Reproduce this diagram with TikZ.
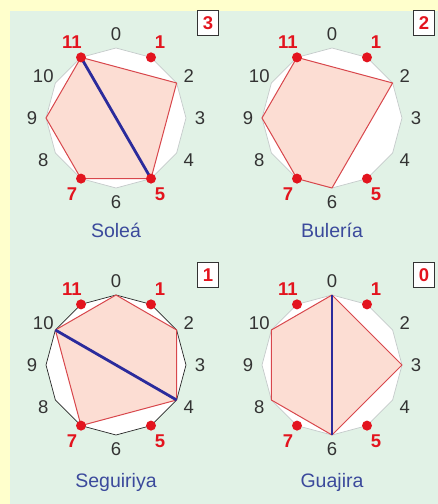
\documentclass[tikz,border=0pt]{standalone}
\usepackage{fontspec}
\setmainfont{Liberation Sans}
\definecolor{bgyellow}{HTML}{FFFFCC}
\definecolor{panel}{HTML}{E1F2E6}
\definecolor{polyfill}{HTML}{FCDDD3}
\definecolor{polyedge}{HTML}{D8474C}
\definecolor{onset}{HTML}{E3141E}
\definecolor{axis}{HTML}{2B2B9C}
\definecolor{titleblue}{HTML}{3B4A9C}
\definecolor{rimgrey}{HTML}{C4CACA}
\tikzset{
  rim/.style={fill=white,line width=.7pt,line join=round},
  rhythm/.style={fill=polyfill,draw=polyedge,line width=1pt,line join=round},
  axisline/.style={draw=axis,line width=2.8pt},
  onsetdot/.style={circle,fill=onset,inner sep=0pt,minimum size=10pt},
  hour/.style={font=\fontsize{18.5}{18.5}\selectfont,text=black!80},
  hourred/.style={font=\fontsize{18.5}{18.5}\selectfont\bfseries,text=onset},
  palotitle/.style={font=\fontsize{19.5}{19.5}\selectfont,text=titleblue},
  countbox/.style={draw=black!80,fill=white,line width=.9pt,minimum width=21pt,minimum height=25pt,inner sep=0pt,font=\fontsize{18.5}{18.5}\selectfont\bfseries,text=onset},
}
\begin{document}
\begin{tikzpicture}[x=1pt,y=1pt]
  \useasboundingbox (0,0) rectangle (438,504);
  \fill[bgyellow] (0,0) rectangle (438,504);
  \fill[panel] (10,0) rectangle (438,493);
  % the four clocks: rim, hour labels
  \foreach \p/\cx/\cy/\rimc in {so/116/386/rimgrey,bu/332/386/rimgrey,se/116/139/black!85,gu/332/139/rimgrey}{
    \begin{scope}[shift={(\cx,\cy)}]
      \foreach \k in {0,...,11}
        \coordinate (\p\k) at ({90-30*\k}:70);
      \draw[rim,draw=\rimc] (\p0) \foreach \k in {1,...,11}{--(\p\k)} -- cycle;
      \foreach \k in {0,2,3,4,6,8,9,10}
        \node[hour] (\p-l\k) at ({90-30*\k}:84) {\k};
      \foreach \k in {1,5,7,11}
        \node[hourred] (\p-l\k) at ({90-30*\k}:88) {\k};
    \end{scope}
  }
  % Solea
  \draw[rhythm] (so11)--(so2)--(so5)--(so7)--(so9)--cycle;
  \draw[axisline] (so11)--(so5);
  % Buleria
  \draw[rhythm] (bu11)--(bu2)--(bu6)--(bu7)--(bu9)--cycle;
  % Seguiriya
  \draw[rhythm] (se0)--(se2)--(se4)--(se7)--(se10)--cycle;
  \draw[axisline] (se10)--(se4);
  % Guajira
  \draw[rhythm] (gu0)--(gu3)--(gu6)--(gu8)--(gu10)--cycle;
  \draw[axisline] (gu0)--(gu6);
  % onsets
  \foreach \p in {so,bu,se,gu}
    \foreach \k in {1,5,7,11}
      \node[onsetdot] (\p-d\k) at (\p\k) {};
  % names and counts
  \node[palotitle] (so-name) at (116,274) {Soleá};
  \node[palotitle] (bu-name) at (332,274) {Bulería};
  \node[palotitle] (se-name) at (116,22) {Seguiriya};
  \node[palotitle] (gu-name) at (332,22) {Guajira};
  \node[countbox] (so-count) at (208,481) {3};
  \node[countbox] (bu-count) at (424,481) {2};
  \node[countbox] (se-count) at (208,229) {1};
  \node[countbox] (gu-count) at (424,229) {0};
\end{tikzpicture}
\end{document}
